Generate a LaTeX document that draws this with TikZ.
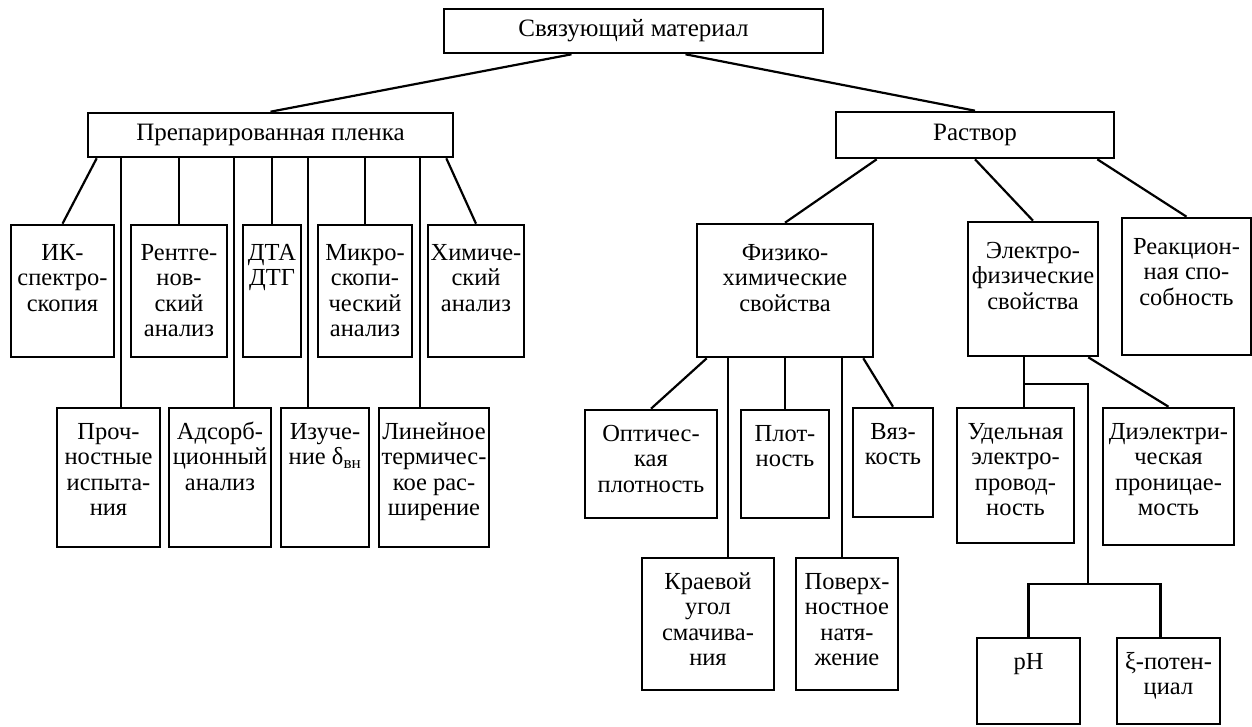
\documentclass[tikz,border=0pt]{standalone}
\usepackage{fontspec}
\setmainfont{Liberation Serif}
\newcommand{\boxtxt}[4][31]{\parbox[c][#3pt][t]{#2pt}{\centering\rule{0pt}{#1pt}#4}}

\begin{document}
\begin{tikzpicture}[x=1pt, y=-1pt,
    box/.style = {draw, line width=2.6pt, inner sep=0pt, font=\fontsize{24.5}{25.5}\selectfont},
    head/.style = {box, font=\fontsize{25}{27}\selectfont},
    link/.style = {line width=2.2pt}]

  \useasboundingbox (0,0) rectangle (1252,726);

  % top levels
  \node [head, minimum width=379, minimum height=44] (svyaz) at (633.5,31) {Связующий материал};
  \node [head, minimum width=365, minimum height=44] (prep) at (270.5,135) {Препарированная пленка};
  \node [head, minimum width=278, minimum height=46] (rast) at (975,135) {Раствор};

  \draw [link] ([xshift=-62]svyaz.south) -- (prep.north);
  \draw [link] ([xshift=52]svyaz.south) -- (rast.north);

  % prepared film
  \node [box] (ik) at (62.5,291) {\boxtxt[35]{103}{132}{ИК-\\спектро-\\скопия}};
  \node [box] (rentg) at (179,291) {\boxtxt[35]{96}{132}{Рентге-\\нов-\\ский\\анализ}};
  \node [box] (dta) at (272,291) {\boxtxt[35]{58}{132}{ДТА\\ДТГ}};
  \node [box] (mikro) at (365,291) {\boxtxt[35]{94}{132}{Микро-\\скопи-\\ческий\\анализ}};
  \node [box] (khim) at (476,291) {\boxtxt[35]{96}{132}{Химиче-\\ский\\анализ}};

  \node [box] (proch) at (108.5,477.5) {\boxtxt{103}{139}{Проч-\\ностные\\испыта-\\ния}};
  \node [box] (adsorb) at (220,477.5) {\boxtxt{102}{139}{Адсорб-\\ционный\\анализ}};
  \node [box] (izuch) at (325,477.5) {\boxtxt{88}{139}{Изуче-\\ние δ\textsubscript{вн}}};
  \node [box] (lin) at (434,477.5) {\boxtxt{110}{139}{Линейное\\термичес-\\кое рас-\\ширение}};

  \draw [link] ([xshift=10]prep.south west) -- (ik.north);
  \draw [link] (prep.south -| rentg.north) -- (rentg.north);
  \draw [link] (prep.south -| dta.north) -- (dta.north);
  \draw [link] (prep.south -| mikro.north) -- (mikro.north);
  \draw [link] ([xshift=-8]prep.south east) -- (khim.north);

  \coordinate (a1) at ([xshift=34]prep.south west);
  \coordinate (a2) at ([xshift=147]prep.south west);
  \coordinate (a3) at ([xshift=221]prep.south west);
  \coordinate (a4) at ([xshift=333]prep.south west);
  \draw [link] (a1) -- (a1 |- proch.north);
  \draw [link] (a2) -- (a2 |- adsorb.north);
  \draw [link] (a3) -- (a3 |- izuch.north);
  \draw [link] (a4) -- (a4 |- lin.north);

  % solution
  \node [box] (fiz) at (785,290.5) {\boxtxt[36]{176}{133}{Физико-\\химические\\свойства}};
  \node [box] (elek) at (1033,289) {\boxtxt[36]{130}{134}{Электро-\\физические\\свойства}};
  \node [box] (reak) at (1186.5,286.5) {\boxtxt[36]{129}{137}{Реакцион-\\ная спо-\\собность}};

  \draw [link] ([xshift=42]rast.south west) -- (fiz.north);
  \draw [link] (rast.south) -- (elek.north);
  \draw [link] ([xshift=-18]rast.south east) -- (reak.north);

  \node [box] (opt) at (651,464) {\boxtxt{132}{108}{Оптичес-\\кая\\плотность}};
  \node [box] (plot) at (785,464) {\boxtxt{88}{108}{Плот-\\ность}};
  \node [box] (vyaz) at (893,462.5) {\boxtxt{80}{109}{Вяз-\\кость}};
  \node [box] (kraev) at (708,624) {\boxtxt{132}{132}{Краевой\\угол\\смачива-\\ния}};
  \node [box] (pov) at (847,624) {\boxtxt{102}{132}{Поверх-\\ностное\\натя-\\жение}};

  \draw [link] ([xshift=11]fiz.south west) -- (opt.north);
  \draw [link] (fiz.south -| plot.north) -- (plot.north);
  \draw [link] ([xshift=-11]fiz.south east) -- (vyaz.north);
  \coordinate (b1) at ([xshift=32]fiz.south west);
  \coordinate (b2) at ([xshift=146]fiz.south west);
  \draw [link] (b1) -- (b1 |- kraev.north);
  \draw [link] (b2) -- (b2 |- pov.north);

  \node [box] (udel) at (1015.5,475.5) {\boxtxt{117}{135}{Удельная\\электро-\\провод-\\ность}};
  \node [box] (diel) at (1168.5,476.5) {\boxtxt{131}{137}{Диэлектри-\\ческая\\проницае-\\мость}};
  \node [box] (ph) at (1028.5,681) {\boxtxt{103}{86}{pH}};
  \node [box] (ksi) at (1168.5,681) {\boxtxt{103}{86}{ξ-потен-\\циал}};

  \coordinate (c1) at ([xshift=57]elek.south west);
  \coordinate (c2) at ([xshift=-11]elek.south east);
  \coordinate (c3) at ([yshift=-27]c1);
  \coordinate (c4) at (c2 |- ph.north);
  \draw [link] (c1) -- (c1 |- udel.north);
  \draw [link] (c2) -- (diel.north);
  \draw [link] (c3) -| ([yshift=53]c4);
  \draw [link] (ph.north) |- ([xshift=-8,yshift=53]ksi.north) -- ([xshift=-8]ksi.north);

\end{tikzpicture}
\end{document}
